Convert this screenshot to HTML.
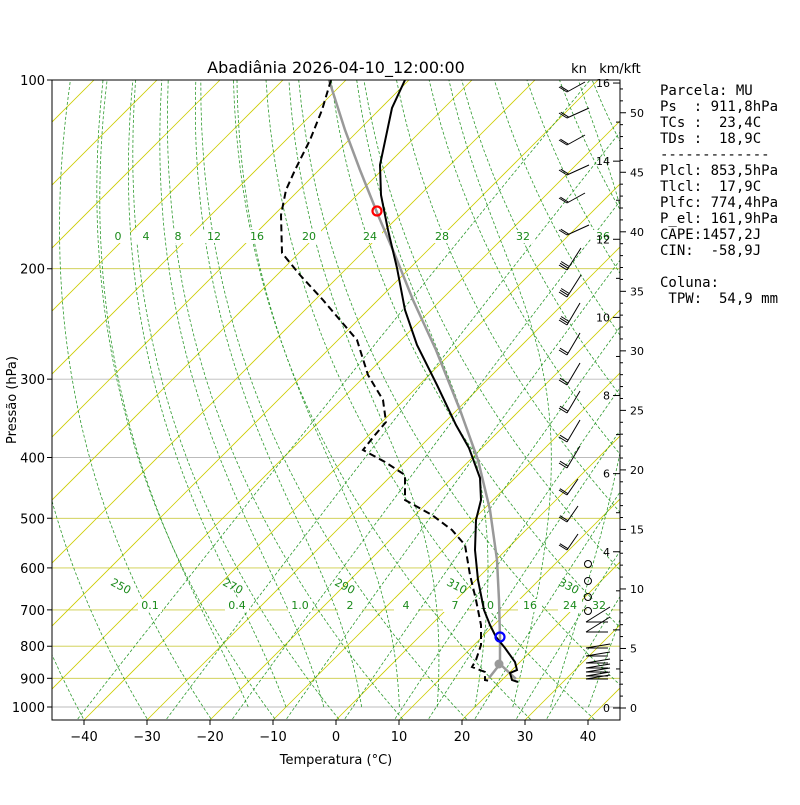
<!DOCTYPE html>
<html><head><meta charset="utf-8"><style>
body{margin:0;background:#fff;width:800px;height:800px;overflow:hidden}
svg{font-family:"DejaVu Sans","Liberation Sans",sans-serif}
</style></head><body>
<svg id="s" width="800" height="800" xmlns="http://www.w3.org/2000/svg">
<defs><clipPath id="c"><rect x="52" y="80" width="568" height="640"/></clipPath></defs>
<rect width="800" height="800" fill="#fff"/>
<g id="bg" clip-path="url(#c)"></g>
<g id="fg" clip-path="url(#c)"></g>
<g id="ax"></g>
<text x="336" y="73" font-size="16" text-anchor="middle">Abadiânia 2026-04-10_12:00:00</text>
<text x="579" y="73" font-size="13" text-anchor="middle">kn</text>
<text x="620" y="73" font-size="13" text-anchor="middle">km/kft</text>
<text x="336" y="764" font-size="13" text-anchor="middle">Temperatura (°C)</text>
<text transform="translate(16,400) rotate(-90)" font-size="13" text-anchor="middle">Pressão (hPa)</text>
<g font-family="'DejaVu Sans Mono','Liberation Mono',monospace" font-size="14">
<text x="660" y="95">Parcela: MU</text>
<text x="660" y="111" xml:space="preserve">Ps  : 911,8hPa</text>
<text x="660" y="127" xml:space="preserve">TCs :  23,4C</text>
<text x="660" y="143" xml:space="preserve">TDs :  18,9C</text>
<text x="660" y="159">-------------</text>
<text x="660" y="175" xml:space="preserve">Plcl: 853,5hPa</text>
<text x="660" y="191" xml:space="preserve">Tlcl:  17,9C</text>
<text x="660" y="207" xml:space="preserve">Plfc: 774,4hPa</text>
<text x="660" y="223" xml:space="preserve">P_el: 161,9hPa</text>
<text x="660" y="239" xml:space="preserve">CAPE:1457,2J</text>
<text x="660" y="255" xml:space="preserve">CIN:  -58,9J</text>
<text x="660" y="287" xml:space="preserve">Coluna:</text>
<text x="660" y="303" xml:space="preserve"> TPW:  54,9 mm</text>
</g>
</svg>
<script>
var NS="http://www.w3.org/2000/svg";
function el(par,tag,a,txt){var e=document.createElementNS(NS,tag);for(var k in a)e.setAttribute(k,a[k]);if(txt!==undefined)e.textContent=txt;document.getElementById(par).appendChild(e);return e;}
function yP(p){return 80+Math.log10(p/100)*627;}
function xT(T,y){return 336+6.3*T+(720-y);}
function pl(par,pts,st){el(par,"polyline",Object.assign({points:pts.map(function(q){return q[0].toFixed(1)+","+q[1].toFixed(1)}).join(" "),fill:"none"},st));}
var G={stroke:"#2e9a2e","stroke-width":0.8,"stroke-dasharray":"3,2"};
[100,200,300,400,500,600,700,800,900,1000].forEach(function(p){var y=yP(p);var c=(p==300||p==400||p==1000||p==100)?"#bbbbbb":"#cccc44";pl("bg",[[52,y],[620,y]],{stroke:c,"stroke-width":0.9});});
for(var T=-150;T<=60;T+=10){pl("bg",[[xT(T,720),720],[xT(T,80),80]],{stroke:"#cccc00","stroke-width":0.8});}
for(var th=230;th<=480;th+=10){var pts=[];for(var p=1060;p>=95;p-=10){var Tk=th*Math.pow(p/1000,0.286)-273.15;var y=yP(p);pts.push([xT(Tk,y),y]);}pl("bg",pts,G);}
for(var T0=-16;T0<=44;T0+=6){var pts=[];var Tc=T0;for(var p=1000;p>=100;p-=5){var y=yP(p);pts.push([xT(Tc,y),y]);var Tk=Tc+273.15;var es=6.112*Math.exp(17.67*Tc/(Tc+243.5));var rs=0.622*es/(p-es);var d=(287*Tk+2.5e6*rs)/(p*(1004+2.5e6*2.5e6*rs*0.622/(287*Tk*Tk)));Tc-=d*5;}
 pl("bg",pts,G);}
[0.1,0.4,1,2,4,7,10,16,24,32].forEach(function(w){var pts=[];for(var p=1060;p>=100;p-=10){var e=w*p/(622+w);var l=Math.log(e/6.112);var Td=243.5*l/(17.67-l);var y=yP(p);pts.push([xT(Td,y),y]);}pl("bg",pts,G);});
function lab(x,y,t){var a={x:x,y:y,"font-size":11,fill:"#1a8a1a","text-anchor":"middle"};el("bg","rect",{x:x-12,y:y-10,width:24,height:13,fill:"#fff"});el("bg","text",a,t);}
[[118,"0"],[146,"4"],[178,"8"],[214,"12"],[257,"16"],[309,"20"],[370,"24"],[442,"28"],[523,"32"],[603,"36"]].forEach(function(q){lab(q[0],240,q[1]);});
[[150,"0.1"],[237,"0.4"],[300,"1.0"],[350,"2"],[406,"4"],[455,"7"],[487,"10"],[530,"16"],[570,"24"],[599,"32"]].forEach(function(q){lab(q[0],609,q[1]);});
[[121,"250"],[233,"270"],[345,"290"],[457,"310"],[569,"330"]].forEach(function(q){el("bg","text",{x:q[0],y:590,"font-size":11,fill:"#1a8a1a","text-anchor":"middle",transform:"rotate(28 "+q[0]+" 586)"},q[1]);});
var Tp=[[405,80],[392,108],[380,165],[381,195],[388,230],[397,268],[405,310],[417,345],[437,385],[456,425],[469,448],[480,478],[481,500],[476,520],[475,550],[478,580],[484,610],[490,625],[496,637],[505,648],[515,662],[517,670],[510,673],[512,680],[518,682]];
var Dp=[[331,80],[322,110],[310,140],[295,170],[286,190],[281,215],[282,253],[300,275],[323,300],[357,340],[368,375],[383,400],[386,422],[375,435],[363,450],[385,462],[405,475],[405,500],[432,515],[452,530],[465,545],[470,575],[476,600],[481,625],[481,645],[476,660],[472,667],[485,672],[485,680],[490,681]];
var Pp=[[329,80],[345,130],[360,170],[378,215],[395,255],[413,300],[436,350],[460,410],[478,460],[490,510],[497,560],[499,600],[500,637],[500,664]];
pl("fg",Pp,{stroke:"#999","stroke-width":2.5});
pl("fg",[[500,664],[489,678]],{stroke:"#999","stroke-width":2.5});
pl("fg",[[500,664],[516,679]],{stroke:"#999","stroke-width":2.5});
pl("fg",Tp,{stroke:"#000","stroke-width":2});
pl("fg",Dp,{stroke:"#000","stroke-width":2,"stroke-dasharray":"7,4"});
el("fg","circle",{cx:377,cy:211,r:4.5,fill:"none",stroke:"#f00","stroke-width":2.2});
el("fg","circle",{cx:500,cy:637,r:4.5,fill:"none",stroke:"#00f","stroke-width":2.2});
el("fg","circle",{cx:499,cy:664,r:4.5,fill:"#999"});
var by=[92,118,145,175,203,235,270,297,325,355,385,413,442,468,495,522,550];
by.forEach(function(y,i){var x0=567;var dx=i<6?(i%2?22:18):(i<8?14:(i<14?13:11));var dy=i<6?-10:-22;if(i>=14)dy=-16;
 pl("fg",[[x0,y],[x0+dx,y+dy]],{stroke:"#000","stroke-width":1});
 var n=i<6?2:(i<9?3:2);for(var k=0;k<n;k++){var bx=x0+dx*0.08*k,byy=y+dy*0.08*k;pl("fg",[[bx,byy],[bx-8,byy-5]],{stroke:"#000","stroke-width":1});}
});
[622,632,648,656,663,668,672,676,679].forEach(function(y,i){pl("fg",[[586,y],[610,y-(i<2?15:4)]],{stroke:"#000","stroke-width":1});pl("fg",[[586,y],[608,y]],{stroke:"#000","stroke-width":1});});
[564,581,597,611].forEach(function(y){el("fg","circle",{cx:588,cy:y,r:3.5,fill:"none",stroke:"#000","stroke-width":1});});
el("ax","rect",{x:52,y:80,width:568,height:640,fill:"none",stroke:"#000","stroke-width":1});
for(var t=-40;t<=40;t+=10){var x=84+6.3*(t+40);el("ax","line",{x1:x,y1:720,x2:x,y2:725,stroke:"#000"});el("ax","text",{x:x,y:741,"font-size":13,"text-anchor":"middle"},(t<0?"−":"")+Math.abs(t));}
[100,200,300,400,500,600,700,800,900,1000].forEach(function(p){var y=yP(p);el("ax","line",{x1:47,y1:y,x2:52,y2:y,stroke:"#000"});el("ax","text",{x:45,y:y+5,"font-size":13,"text-anchor":"end"},p);});
for(var k=0;k<=16;k++){var y=708-k*39.06;el("ax","line",{x1:k%2?616:613,y1:y,x2:620,y2:y,stroke:"#000"});if(k%2==0&&k!=2)el("ax","text",{x:610,y:y+4,"font-size":11,"text-anchor":"end"},k);}
for(var k=0;k<=52;k++){var y=708-k*11.905;el("ax","line",{x1:620,y1:y,x2:k%5?623:626,y2:y,stroke:"#000"});if(k%5==0)el("ax","text",{x:630,y:y+4,"font-size":11},k);}
</script>
</body></html>
